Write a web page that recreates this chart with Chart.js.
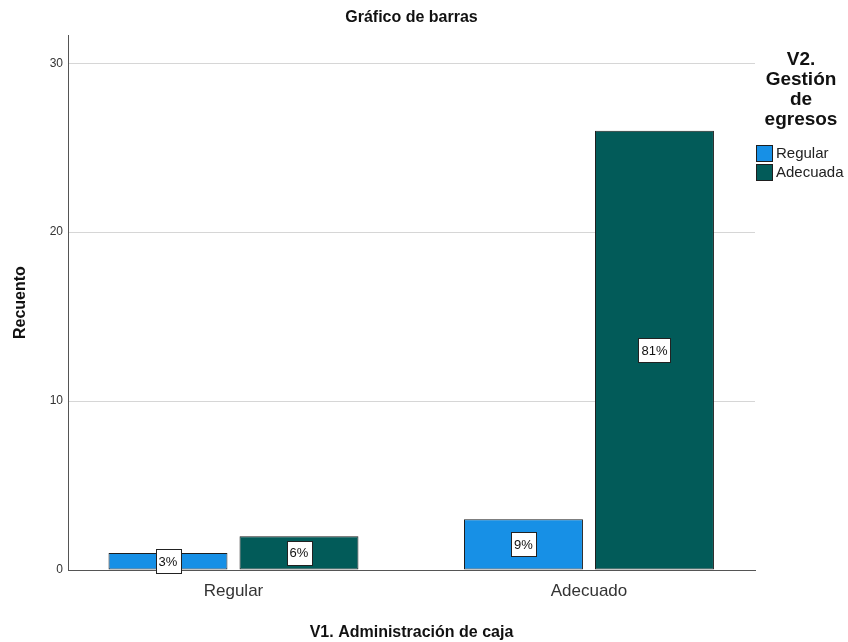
<!DOCTYPE html>
<html>
<head>
<meta charset="utf-8">
<script src="https://cdn.jsdelivr.net/npm/chart.js@4.4.1/dist/chart.umd.min.js"></script>
<style>
  html, body { margin: 0; padding: 0; background: #ffffff; }
  #wrap { width: 848px; height: 642px; }
</style>
</head>
<body>
<div id="wrap"><canvas id="c" width="848" height="642"></canvas></div>
<script>
// ---- data ----
const categories = ['Regular', 'Adecuado'];
const seriesNames = ['Regular', 'Adecuada'];
const regularValues = [1, 3];
const adecuadaValues = [2, 26];
const yTickValues = [0, 10, 20, 30];
const seriesColors = ['#1790e6', '#025b59'];
const chartTitle = 'Gráfico de barras';
const legendTitleLines = ['V2.', 'Gestión', 'de', 'egresos'];
const xTitle = 'V1. Administración de caja';
const yTitle = 'Recuento';

const FONT = "'Liberation Sans', Arial, sans-serif";
const allValues = [regularValues, adecuadaValues];
const total = allValues.flat().reduce((a, b) => a + b, 0);

const datasets = seriesNames.map((name, s) => ({
  label: name,
  data: categories.map((c, i) => ({ x: i, y: allValues[s][i] })),
  backgroundColor: seriesColors[s],
  borderColor: '#1e1e1e',
  borderWidth: 1,
  borderSkipped: false,
  barPercentage: 0.908,
  categoryPercentage: 0.737
}));

const valueLabels = {
  id: 'valueLabels',
  afterDatasetsDraw(chart) {
    const ctx = chart.ctx;
    ctx.save();
    ctx.font = '13px ' + FONT;
    ctx.textAlign = 'center';
    ctx.textBaseline = 'middle';
    chart.data.datasets.forEach((ds, di) => {
      const meta = chart.getDatasetMeta(di);
      meta.data.forEach((el, i) => {
        const p = el.getProps(['x', 'y', 'base'], true);
        const v = ds.data[i].y;
        const txt = Math.round(v / total * 100) + '%';
        const cy = (p.y + p.base) / 2;
        const w = ctx.measureText(txt).width + 6;
        const h = 24;
        const bx = Math.round(p.x - w / 2) + 0.5;
        const by = Math.round(cy - h / 2) + 0.5;
        ctx.fillStyle = '#ffffff';
        ctx.fillRect(bx, by, Math.round(w), h);
        ctx.strokeStyle = '#222222';
        ctx.lineWidth = 1;
        ctx.strokeRect(bx, by, Math.round(w), h);
        ctx.fillStyle = '#111111';
        ctx.fillText(txt, p.x, cy + 1);
      });
    });
    ctx.restore();
  }
};

const customLegend = {
  id: 'customLegend',
  afterDraw(chart) {
    const ctx = chart.ctx;
    ctx.save();
    const cx = 801;
    ctx.fillStyle = '#111111';
    ctx.textAlign = 'center';
    ctx.textBaseline = 'middle';
    ctx.font = 'bold 19px ' + FONT;
    legendTitleLines.forEach((line, i) => {
      ctx.fillText(line, cx, 60 + i * 20);
    });
    ctx.font = '15px ' + FONT;
    ctx.textAlign = 'left';
    chart.data.datasets.forEach((ds, i) => {
      const y = 145 + i * 19;
      ctx.fillStyle = ds.backgroundColor;
      ctx.fillRect(756.5, y + 0.5, 16, 16);
      ctx.strokeStyle = '#1e1e1e';
      ctx.lineWidth = 1;
      ctx.strokeRect(756.5, y + 0.5, 16, 16);
      ctx.fillStyle = '#222222';
      ctx.fillText(ds.label, 776, y + 9);
    });
    ctx.restore();
  }
};

new Chart(document.getElementById('c'), {
  type: 'bar',
  data: { datasets },
  plugins: [valueLabels, customLegend],
  options: {
    responsive: false,
    animation: false,
    layout: { padding: { left: 0, right: 93, top: 0, bottom: 0 } },
    plugins: {
      legend: { display: false },
      tooltip: { enabled: false },
      title: {
        display: true,
        text: chartTitle,
        fullSize: false,
        color: '#111111',
        font: { family: FONT, size: 16, weight: 'bold', lineHeight: 1.2 },
        padding: { top: 8, bottom: 8 }
      }
    },
    scales: {
      x: {
        type: 'linear',
        offset: false,
        min: -0.4655,
        max: 1.467,
        afterBuildTicks(scale) { scale.ticks = categories.map((c, i) => ({ value: i })); },
        afterFit(scale) { scale.height = 72; },
        ticks: {
          callback: (v) => categories[v],
          color: '#333333',
          font: { family: FONT, size: 17 },
          padding: 11
        },
        grid: { display: false, drawTicks: false, offset: false },
        border: { display: true, color: '#555555', width: 1 },
        title: {
          display: true,
          text: xTitle,
          color: '#111111',
          font: { family: FONT, size: 16, weight: 'bold' },
          padding: { top: 14, bottom: 0 }
        }
      },
      y: {
        min: 0,
        max: 31.66,
        afterBuildTicks(scale) { scale.ticks = yTickValues.map(v => ({ value: v })); },
        afterFit(scale) { scale.width = 68; },
        ticks: {
          color: '#333333',
          font: { family: FONT, size: 12 },
          padding: 5
        },
        grid: { color: '#d6d6d6', lineWidth: 1, drawTicks: false },
        border: { display: true, color: '#555555', width: 1 },
        title: {
          display: true,
          text: yTitle,
          color: '#111111',
          font: { family: FONT, size: 16, weight: 'bold' },
          padding: { top: 11, bottom: 0 }
        }
      }
    }
  }
});
</script>
</body>
</html>
